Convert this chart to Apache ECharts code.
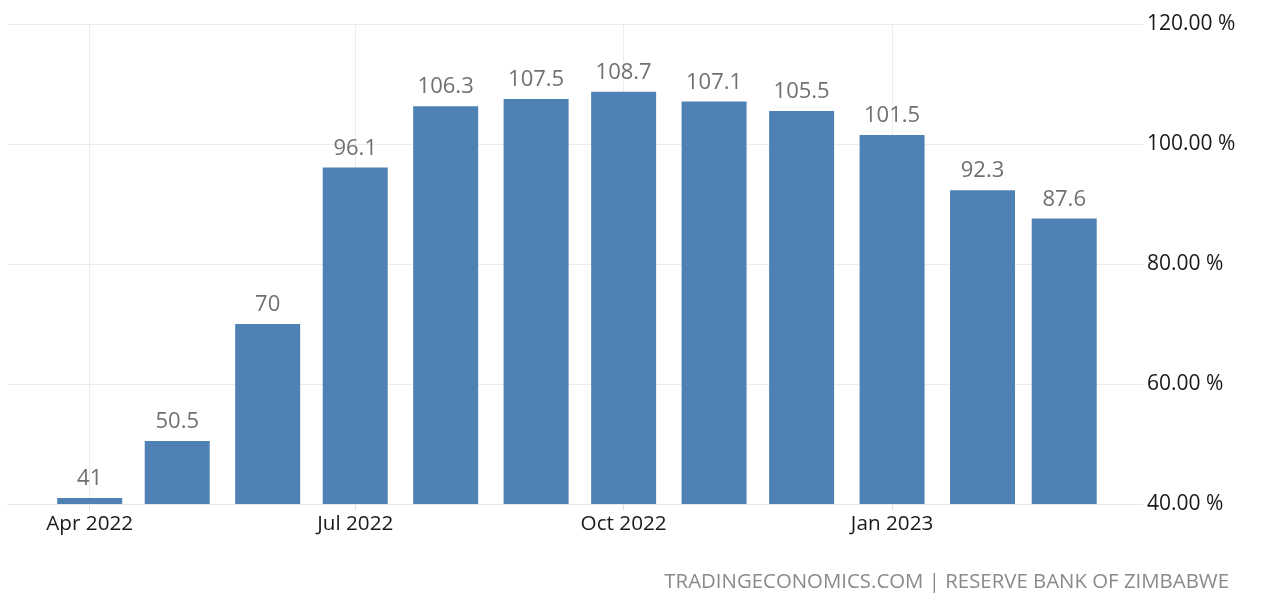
<!DOCTYPE html>
<html>
<head>
<meta charset="utf-8">
<script src="https://cdn.jsdelivr.net/npm/echarts@6/dist/echarts.min.js"></script>
<style>html,body{margin:0;padding:0;background:#fff;}#c{width:1280px;height:609px;}</style>
</head>
<body>
<div id="c"></div>
<script>
var months = ['2022-04-01','2022-05-01','2022-06-01','2022-07-01','2022-08-01','2022-09-01','2022-10-01','2022-11-01','2022-12-01','2023-01-01','2023-02-01','2023-03-01'];
var values = [41, 50.5, 70, 96.1, 106.3, 107.5, 108.7, 107.1, 105.5, 101.5, 92.3, 87.6];
var tickDates = ['2022-04-01','2022-07-01','2022-10-01','2023-01-01'];
var tickLabels = ['Apr 2022','Jul 2022','Oct 2022','Jan 2023'];
var yTicks = [40, 60, 80, 100, 120];

var FONT = '"Open Sans", sans-serif';
var parse = function (s) { return +echarts.number.parseDate(s); };
var tickTs = tickDates.map(parse);

var chart = echarts.init(document.getElementById('c'));
chart.setOption({
  animation: false,
  backgroundColor: '#ffffff',
  title: {
    text: 'TRADINGECONOMICS.COM | RESERVE BANK OF ZIMBABWE',
    right: 46, top: 567,
    textStyle: { color: '#8a8a8a', fontSize: 20.4, fontWeight: 'normal', fontFamily: FONT }
  },
  grid: { left: 8, right: 137, top: 24, bottom: 105 },
  xAxis: {
    type: 'value',
    scale: true,
    min: parse('2022-03-04'),
    max: parse('2023-03-28'),
    axisLine: { show: true, lineStyle: { color: '#e8e8e8' } },
    axisTick: { show: true, length: 6, customValues: tickTs, lineStyle: { color: '#e0e0e0' } },
    axisLabel: {
      customValues: tickTs,
      color: '#1a1a1a', fontSize: 20.7, fontFamily: FONT, margin: 10,
      formatter: function (v) {
        var i = tickTs.indexOf(+v);
        return i >= 0 ? tickLabels[i] : '';
      }
    },
    splitLine: { show: true, lineStyle: { color: '#ececec', width: 1 } }
  },
  yAxis: {
    type: 'value',
    position: 'right',
    min: yTicks[0], max: yTicks[yTicks.length - 1], interval: 20,
    axisLine: { show: false },
    axisTick: { show: false },
    axisLabel: {
      color: '#1a1a1a', fontSize: 21, fontFamily: FONT, margin: 4,
      formatter: function (v) { return v.toFixed(2) + ' %'; }
    },
    splitLine: { show: true, lineStyle: { color: '#ececec', width: 1 } }
  },
  series: [{
    type: 'bar',
    barWidth: 65,
    data: months.map(function (m, i) { return [parse(m), values[i]]; }),
    itemStyle: { color: '#4f81b5' },
    label: {
      show: true, position: 'top', distance: 8,
      color: '#707070', fontSize: 22, fontFamily: FONT,
      formatter: function (p) { return String(p.value[1]); }
    }
  }]
});
</script>
</body>
</html>
